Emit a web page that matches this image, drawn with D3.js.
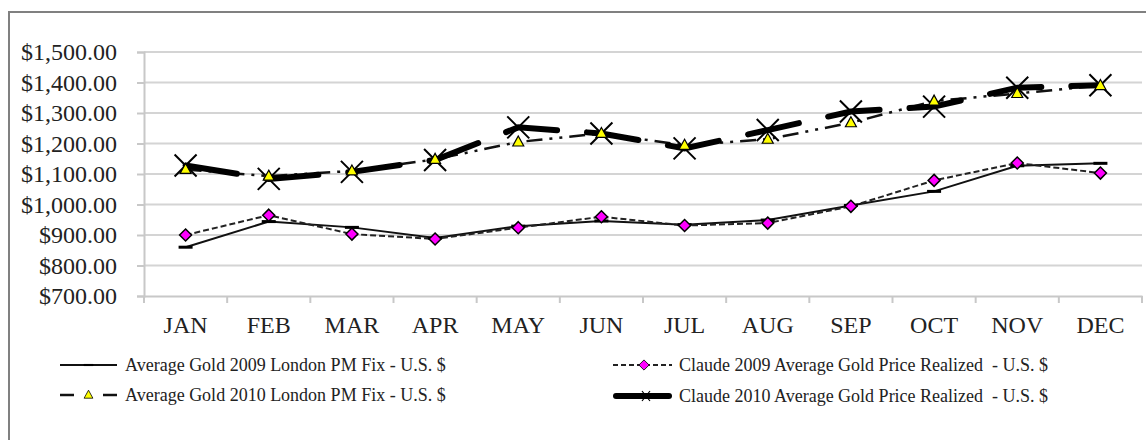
<!DOCTYPE html>
<html><head><meta charset="utf-8">
<script src="https://cdn.jsdelivr.net/npm/d3@7"></script>
<style>body{margin:0;background:#fff;} svg{display:block;}</style>
</head><body>
<svg id="c" width="1146" height="440"></svg>
<script>
const months = ["JAN","FEB","MAR","APR","MAY","JUN","JUL","AUG","SEP","OCT","NOV","DEC"];
const yTicks = [700,800,900,1000,1100,1200,1300,1400,1500];
const london2009 = [860,944,925,890,929,946,934,949,997,1043,1127,1135];
const claude2009 = [900,965,903,887,924,960,931,939,994,1079,1136,1103];
const london2010 = [1115,1093,1110,1148,1205,1233,1194,1214,1268,1339,1364,1390];
const claude2010 = [1128,1084,1107,1146,1253,1233,1184,1244,1305,1321,1383,1391];
const legendLabels = [
  "Average Gold 2009 London PM Fix - U.S. $",
  "Claude 2009 Average Gold Price Realized  - U.S. $",
  "Average Gold 2010 London PM Fix - U.S. $",
  "Claude 2010 Average Gold Price Realized  - U.S. $"
];

const svg = d3.select("#c");
const font = "'Liberation Serif','Times New Roman',serif";
// outer border
svg.append("rect").attr("x",9).attr("y",12).attr("width",1160).attr("height",460)
  .attr("fill","#fff").attr("stroke","#808080").attr("stroke-width",2);

const x = d3.scaleBand().domain(months).range([144,1142]).paddingInner(0).paddingOuter(0);
const y = d3.scaleLinear().domain([700,1500]).range([296,52]);
const cx = m => x(m) + x.bandwidth()/2;

// gridlines
svg.append("g").selectAll("line").data(yTicks.slice(1)).join("line")
  .attr("x1",144).attr("x2",1142).attr("y1",d=>y(d)).attr("y2",d=>y(d))
  .attr("stroke","#d4d4d4").attr("stroke-width",2);

// y axis
const yAxis = svg.append("g").attr("transform","translate(144,0)")
  .call(d3.axisLeft(y).tickValues(yTicks).tickSize(7).tickPadding(20)
    .tickFormat(d => "$" + d3.format(",.2f")(d)));
yAxis.select(".domain").attr("stroke","#c8c8c8").attr("stroke-width",2);
yAxis.selectAll(".tick line").attr("stroke","#c8c8c8").attr("stroke-width",2);
yAxis.selectAll("text").attr("font-family",font).attr("font-size",24).attr("fill","#222");

// x axis
const xAxis = svg.append("g").attr("transform","translate(0,296)")
  .call(d3.axisBottom(x).tickSize(0).tickPadding(20));
xAxis.select(".domain").attr("stroke","#c8c8c8").attr("stroke-width",2);
xAxis.selectAll("text").attr("font-family",font).attr("font-size",24).attr("fill","#222");
// category boundary ticks
svg.append("g").selectAll("line").data(months.concat(["END"])).join("line")
  .attr("x1",(d,i)=> i<12 ? x(d) : 1142).attr("x2",(d,i)=> i<12 ? x(d) : 1142)
  .attr("y1",296).attr("y2",303).attr("stroke","#c8c8c8").attr("stroke-width",2);

const line = d3.line().x((d,i)=>cx(months[i])).y(d=>y(d));

// series lines
svg.append("path").datum(london2009).attr("d",line).attr("fill","none")
  .attr("stroke","#111").attr("stroke-width",2);
svg.append("path").datum(claude2009).attr("d",line).attr("fill","none")
  .attr("stroke","#222").attr("stroke-width",2).attr("stroke-dasharray","6,3");
svg.append("path").datum(london2010).attr("d",line).attr("fill","none")
  .attr("stroke","#111").attr("stroke-width",2.5).attr("stroke-dasharray","16,7,3,7,3,7");
svg.append("path").datum(claude2010).attr("d",line).attr("fill","none")
  .attr("stroke","#000").attr("stroke-width",6).attr("stroke-dasharray","52,30")
  .attr("stroke-linecap","round");

// markers
const dashMark = "M-7,-1.5 L7,-1.5 L7,1.5 L-7,1.5 Z";
const diamond = "M0,-6 L6,0 L0,6 L-6,0 Z";
const tri = "M0,-6 L5.5,4 L-5.5,4 Z";
const xMark = "M-11,-11 L11,11 M-11,11 L11,-11";

svg.append("g").selectAll("path").data(london2009).join("path")
  .attr("d",dashMark).attr("fill","#000")
  .attr("transform",(d,i)=>`translate(${cx(months[i])},${y(d)})`);
svg.append("g").selectAll("path").data(claude2009).join("path")
  .attr("d",diamond).attr("fill","#ff00ff").attr("stroke","#000").attr("stroke-width",1.5)
  .attr("transform",(d,i)=>`translate(${cx(months[i])},${y(d)})`);
svg.append("g").selectAll("path").data(claude2010).join("path")
  .attr("d",xMark).attr("fill","none").attr("stroke","#000").attr("stroke-width",2)
  .attr("transform",(d,i)=>`translate(${cx(months[i])},${y(d)})`);
svg.append("g").selectAll("path").data(london2010).join("path")
  .attr("d",tri).attr("fill","#ffff00").attr("stroke","#000").attr("stroke-width",1.2)
  .attr("transform",(d,i)=>`translate(${cx(months[i])},${y(d)})`);

// legend
const lg = svg.append("g");
const rows = [365, 395];
const cols = [[60,117,125],[613,672,679]];
function legText(xp, yp, t){
  lg.append("text").attr("x",xp).attr("y",yp).attr("dy","0.35em")
    .attr("font-family",font).attr("font-size",18).attr("fill","#222")
    .style("white-space","pre").attr("xml:space","preserve").text(t);
}
// series 1
lg.append("line").attr("x1",60).attr("x2",117).attr("y1",rows[0]).attr("y2",rows[0]).attr("stroke","#111").attr("stroke-width",2);
lg.append("path").attr("d",dashMark).attr("fill","#000").attr("transform",`translate(88.5,${rows[0]}) scale(0.7)`);
legText(125, rows[0], legendLabels[0]);
// series 2
lg.append("line").attr("x1",613).attr("x2",672).attr("y1",rows[0]).attr("y2",rows[0]).attr("stroke","#222").attr("stroke-width",2).attr("stroke-dasharray","5,3");
lg.append("path").attr("d",diamond).attr("fill","#ff00ff").attr("stroke","#000").attr("stroke-width",1).attr("transform",`translate(644,${rows[0]}) scale(0.85)`);
legText(679, rows[0], legendLabels[1]);
// series 3
lg.append("line").attr("x1",60).attr("x2",117).attr("y1",rows[1]).attr("y2",rows[1]).attr("stroke","#111").attr("stroke-width",2.5).attr("stroke-dasharray","14,43");
lg.append("line").attr("x1",103).attr("x2",117).attr("y1",rows[1]).attr("y2",rows[1]).attr("stroke","#111").attr("stroke-width",2.5);
lg.append("path").attr("d",tri).attr("fill","#ffff00").attr("stroke","#000").attr("stroke-width",1).attr("transform",`translate(88.5,${rows[1]}) scale(0.8)`);
legText(125, rows[1], legendLabels[2]);
// series 4
lg.append("line").attr("x1",616).attr("x2",669).attr("y1",rows[1]+1).attr("y2",rows[1]+1).attr("stroke","#000").attr("stroke-width",6).attr("stroke-linecap","round");
lg.append("path").attr("d","M-4,-5 L4,5 M-4,5 L4,-5").attr("stroke","#000").attr("stroke-width",1.2).attr("transform",`translate(646,${rows[1]+1})`);
legText(679, rows[1]+1, legendLabels[3]);
</script>
</body></html>
